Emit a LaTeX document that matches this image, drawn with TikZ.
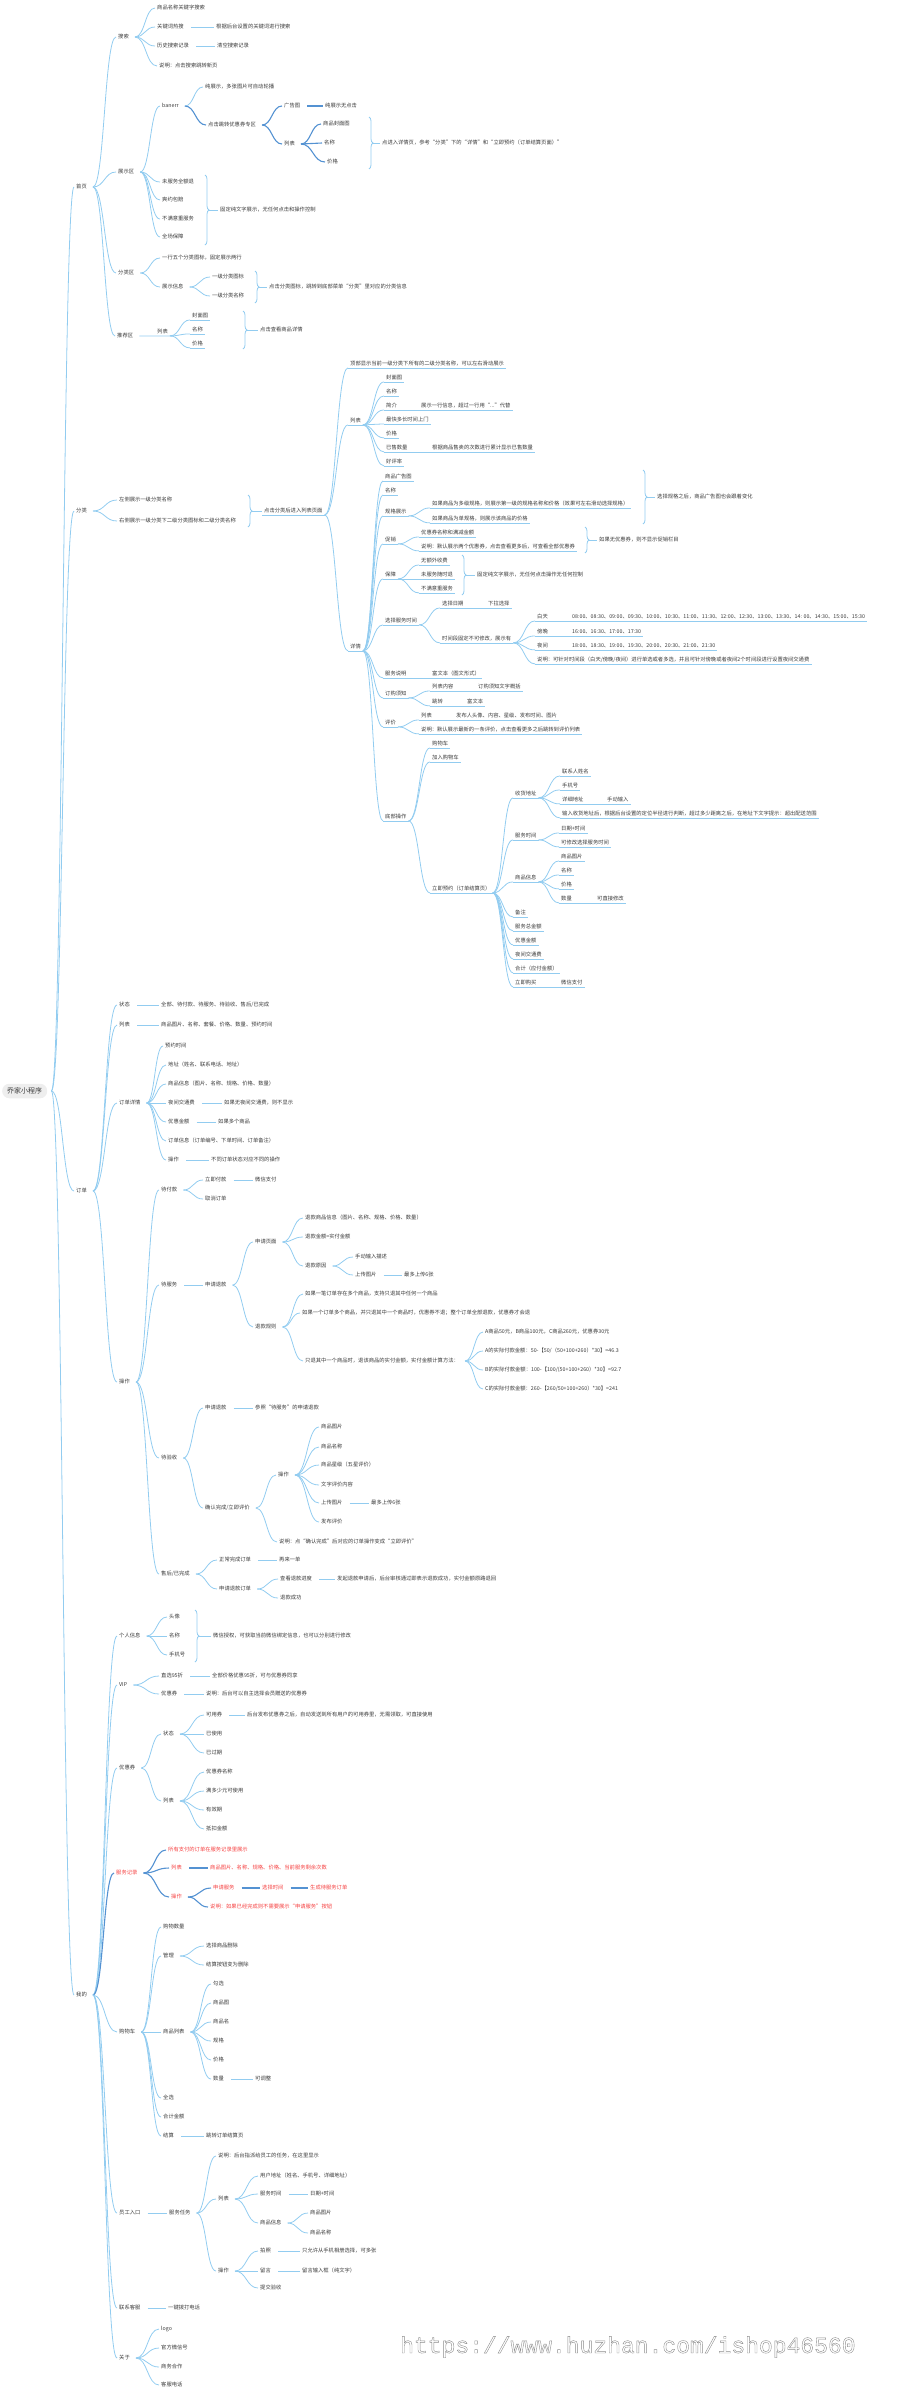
\documentclass[tikz,border=0pt]{standalone}
\usepackage{fontspec}
\setmainfont{Noto Sans CJK SC}
\newfontfamily\wmfont{Liberation Mono}
\usetikzlibrary{calc,decorations.pathreplacing}
\definecolor{lineblue}{RGB}{146,204,240}
\definecolor{linedark}{RGB}{84,146,210}
\definecolor{txt}{RGB}{58,58,58}
\definecolor{redtx}{RGB}{245,64,64}
\definecolor{rootbg}{RGB}{238,238,238}
\tikzset{
	conn/.style={lineblue,line width=0.8pt},
	connd/.style={linedark,line width=1.1pt},
	tp/.style={anchor=west,inner xsep=2pt,inner ysep=1pt,text height=4.3pt,text depth=1.1pt,font=\fontsize{5.3}{6}\selectfont,text=txt},
	rtp/.style={tp,text=redtx},
	rootnode/.style={anchor=west,fill=rootbg,rounded corners=7pt,inner xsep=5pt,inner ysep=4pt,font=\fontsize{7}{8}\selectfont,text=txt},
}
\newcommand\fan[3][conn]{\draw[#1] let \p1=(#2), \p2=(#3) in (\p1) .. controls ({(\x1+\x2)/2},\y1) and ({(\x1+\x2)/2},\y2) .. (\p2);}
\newcommand\fanm[3][conn]{\fan[#1]{[xshift=4pt]#2.east}{#3.west}}
\newcommand\fanu[3][conn]{\fan[#1]{#2.south east}{#3.south west}\draw[#1] (#3.south west) -- (#3.south east);}
\newcommand\seg[3][conn]{\draw[#1] ([xshift=5pt]#2.east) -- (#3.west);}
\newcommand\uln[3][conn]{\draw[#1] (#2.south west) -- (#3.south east);}
\newcommand\summ[4]{\draw[conn,decorate,decoration={brace,amplitude=4pt}] (#1,#2) -- (#1,#3); \draw[conn] ({#1+4},{(#2+#3)/2}) -- (#4.west);}

\begin{document}
\begin{tikzpicture}[x=1pt,y=-1pt]
		%%%%% START %%%%%
		\useasboundingbox (0,0) rectangle (900,2393);
		\node[rootnode] (r) at (2,1091) {乔家小程序};
		
		% 首页
		\node[tp] (h) at (74,187) {首页};
		\node[tp] (hs) at (116,37) {搜索};
		\node[tp] (hs1) at (155,8) {商品名称关键字搜索};
		\node[tp] (hs2) at (155,27) {关键词热搜};
		\node[tp] (hs2t) at (214,27) {根据后台设置的关键词进行搜索};
		\node[tp] (hs3) at (155,46) {历史搜索记录};
		\node[tp] (hs3t) at (215,46) {清空搜索记录};
		\node[tp] (hs4) at (157,66) {说明：点击搜索跳转新页};
		\node[tp] (hz) at (116,172) {展示区};
		\node[tp] (hz1) at (160,106) {banerr};
		\node[tp] (hz1a) at (203,87) {纯展示，多张图片可自动轮播};
		\node[tp] (hz1b) at (206,125) {点击跳转优惠券专区};
		\node[tp] (hz1b1) at (282,106) {广告图};
		\node[tp] (hz1b1t) at (323,106) {纯展示无点击};
		\node[tp] (hz1b2) at (282,144) {列表};
		\node[tp] (hz1b2a) at (321,124) {商品封面图};
		\node[tp] (hz1b2b) at (322,143) {名称};
		\node[tp] (hz1b2c) at (325,162) {价格};
		\node[tp] (hz1s) at (380,143) {点进入详情页，参考“分类”下的“详情”和“立即预约（订单结算页面）”};
		\node[tp] (hz2) at (160,182) {未服务全额退};
		\node[tp] (hz3) at (160,200) {爽约包赔};
		\node[tp] (hz4) at (160,219) {不满意重服务};
		\node[tp] (hz5) at (160,237) {全场保障};
		\node[tp] (hzs) at (218,210) {固定纯文字展示，无任何点击和操作控制};
		\node[tp] (hf) at (116,273) {分类区};
		\node[tp] (hf1) at (160,258) {一行五个分类图标，固定展示两行};
		\node[tp] (hf2) at (160,287) {展示信息};
		\node[tp] (hf2a) at (210,277) {一级分类图标};
		\node[tp] (hf2b) at (210,296) {一级分类名称};
		\node[tp] (hfs) at (267,287) {点击分类图标，跳转到底部菜单“分类”里对应的分类信息};
		\node[tp] (ht) at (115,336) {推荐区};
		\node[tp] (ht1) at (155,332) {列表};
		\node[tp] (ht1a) at (190,316) {封面图};
		\node[tp] (ht1b) at (190,330) {名称};
		\node[tp] (ht1c) at (190,344) {价格};
		\node[tp] (hts) at (258,330) {点击查看商品详情};
		
		\fanm{h}{hs} \fanm{h}{hz} \fanm{h}{hf} \fanm{h}{ht}
		\fanm{hs}{hs1} \fanm{hs}{hs2} \fanm{hs}{hs3} \fanm{hs}{hs4}
		\seg{hs2}{hs2t} \seg{hs3}{hs3t}
		\fanm{hz}{hz1} \fanm{hz}{hz2} \fanm{hz}{hz3} \fanm{hz}{hz4} \fanm{hz}{hz5}
		\fanm{hz1}{hz1a} \fanm[connd]{hz1}{hz1b}
		\fanm[connd]{hz1b}{hz1b1} \fanm[connd]{hz1b}{hz1b2} \seg[connd]{hz1b1}{hz1b1t}
		\fanm[connd]{hz1b2}{hz1b2a} \fanm[connd]{hz1b2}{hz1b2b} \fanm[connd]{hz1b2}{hz1b2c}
		\summ{369}{117}{169}{hz1s}
		\summ{205}{175}{245}{hzs}
		\fanm{hf}{hf1} \fanm{hf}{hf2} \fanm{hf2}{hf2a} \fanm{hf2}{hf2b}
		\summ{255}{271}{303}{hfs}
		\draw[conn] ([xshift=4pt]ht.east) -- (ht1.south west) -- (ht1.south east);
		\fanu{ht1}{ht1a} \fanu{ht1}{ht1b} \fanu{ht1}{ht1c}
		\summ{243}{311}{349}{hts}
		
		% 分类
		\node[tp] (c) at (74,511) {分类};
		\node[tp] (c1) at (117,500) {左侧展示一级分类名称};
		\node[tp] (c2) at (117,521) {右侧展示一级分类下二级分类图标和二级分类名称};
		\node[tp] (cs) at (262,511) {点击分类后进入列表页面};
		\node[tp] (ca) at (348,364) {顶部显示当前一级分类下所有的二级分类名称，可以左右滑动展示};
		\node[tp] (cb) at (348,421) {列表};
		\node[tp] (cb1) at (384,378) {封面图};
		\node[tp] (cb2) at (384,392) {名称};
		\node[tp] (cb3) at (384,406) {简介};
		\node[tp] (cb3t) at (419,406) {展示一行信息，超过一行用“...”代替};
		\node[tp] (cb4) at (384,420) {最快多长时间上门};
		\node[tp] (cb5) at (384,434) {价格};
		\node[tp] (cb6) at (384,448) {已售数量};
		\node[tp] (cb6t) at (430,448) {根据商品售卖的次数进行累计显示已售数量};
		\node[tp] (cb7) at (384,462) {好评率};
		\node[tp] (cc) at (348,647) {详情};
		\node[tp] (cc1) at (383,477) {商品广告图};
		\node[tp] (cc2) at (383,491) {名称};
		\node[tp] (cc3) at (383,512) {规格展示};
		\node[tp] (cc3a) at (430,504) {如果商品为多级规格，则展示第一级的规格名称和价格（效果可左右滑动选择规格）};
		\node[tp] (cc3b) at (430,519) {如果商品为单规格，则展示该商品的价格};
		\node[tp] (ccs1) at (655,497) {选择规格之后，商品广告图也会跟着变化};
		\node[tp] (cc4) at (383,540) {促销};
		\node[tp] (cc4a) at (419,533) {优惠券名称和满减金额};
		\node[tp] (cc4b) at (419,547) {说明：默认展示两个优惠券，点击查看更多后，可查看全部优惠券};
		\node[tp] (ccs2) at (597,540) {如果无优惠券，则不显示促销栏目};
		\node[tp] (cc5) at (383,575) {保障};
		\node[tp] (cc5a) at (419,561) {无额外收费};
		\node[tp] (cc5b) at (419,575) {未服务随时退};
		\node[tp] (cc5c) at (419,589) {不满意重服务};
		\node[tp] (ccs3) at (475,575) {固定纯文字展示，无任何点击操作无任何控制};
		\node[tp] (cc6) at (383,621) {选择服务时间};
		\node[tp] (cc6a) at (440,604) {选择日期};
		\node[tp] (cc6at) at (486,604) {下拉选择};
		\node[tp] (cc6b) at (440,639) {时间段固定不可修改，展示有};
		\node[tp] (cc6b1) at (535,617) {白天};
		\node[tp] (cc6b1t) at (570,617) {08:00、08:30、09:00、09:30、10:00、10:30、11:00、11:30、12:00、12:30、13:00、13:30、14: 00、14:30、15:00、15:30};
		\node[tp] (cc6b2) at (535,632) {傍晚};
		\node[tp] (cc6b2t) at (570,632) {16:00、16:30、17:00、17:30};
		\node[tp] (cc6b3) at (535,646) {夜间};
		\node[tp] (cc6b3t) at (570,646) {18:00、18:30、19:00、19:30、20:00、20:30、21:00、21:30};
		\node[tp] (cc6b4) at (535,660) {说明：可针对时间段（白天/傍晚/夜间）进行单选或者多选，并且可针对傍晚或者夜间2个时间段进行设置夜间交通费};
		\node[tp] (cc7) at (383,674) {服务说明};
		\node[tp] (cc7t) at (430,674) {富文本（图文形式）};
		\node[tp] (cc8) at (383,694) {订购须知};
		\node[tp] (cc8a) at (430,687) {列表内容};
		\node[tp] (cc8at) at (476,687) {订购须知文字概括};
		\node[tp] (cc8b) at (430,702) {跳转};
		\node[tp] (cc8bt) at (465,702) {富文本};
		\node[tp] (cc9) at (383,723) {评价};
		\node[tp] (cc9a) at (419,716) {列表};
		\node[tp] (cc9at) at (454,716) {发布人头像、内容、星级、发布时间、图片};
		\node[tp] (cc9b) at (419,730) {说明：默认展示最新的一条评价，点击查看更多之后跳转到评价列表};
		\node[tp] (cc10) at (383,817) {底部操作};
		\node[tp] (cc10a) at (430,744) {购物车};
		\node[tp] (cc10b) at (430,758) {加入购物车};
		\node[tp] (cc10c) at (430,889) {立即预约（订单结算页）};
		\node[tp] (d1) at (513,794) {收货地址};
		\node[tp] (d1a) at (560,772) {联系人姓名};
		\node[tp] (d1b) at (560,786) {手机号};
		\node[tp] (d1c) at (560,800) {详细地址};
		\node[tp] (d1ct) at (605,800) {手动输入};
		\node[tp] (d1d) at (560,814) {输入收货地址后，根据后台设置的定位半径进行判断，超过多少距离之后，在地址下文字提示：超出配送范围};
		\node[tp] (d2) at (513,836) {服务时间};
		\node[tp] (d2a) at (559,829) {日期+时间};
		\node[tp] (d2b) at (559,843) {可修改选择服务时间};
		\node[tp] (d3) at (513,878) {商品信息};
		\node[tp] (d3a) at (559,857) {商品图片};
		\node[tp] (d3b) at (559,871) {名称};
		\node[tp] (d3c) at (559,885) {价格};
		\node[tp] (d3d) at (559,899) {数量};
		\node[tp] (d3dt) at (595,899) {可直接修改};
		\node[tp] (d4) at (513,913) {备注};
		\node[tp] (d5) at (513,927) {服务总金额};
		\node[tp] (d6) at (513,941) {优惠金额};
		\node[tp] (d7) at (513,955) {夜间交通费};
		\node[tp] (d8) at (513,969) {合计（应付金额）};
		\node[tp] (d9) at (513,983) {立即购买};
		\node[tp] (d9t) at (559,983) {微信支付};
		
		\fanm{c}{c1} \fanm{c}{c2}
		\summ{248}{495}{527}{cs}
		\uln{cs}{cs}
		\fanu{cs}{ca} \fanu{cs}{cb} \fanu{cs}{cc}
		\fanu{cb}{cb1} \fanu{cb}{cb2} \fanu{cb}{cb3} \fanu{cb}{cb4} \fanu{cb}{cb5} \fanu{cb}{cb6} \fanu{cb}{cb7}
		\uln{cb3}{cb3t} \uln{cb6}{cb6t}
		\fanu{cc}{cc1} \fanu{cc}{cc2} \fanu{cc}{cc3} \fanu{cc}{cc4} \fanu{cc}{cc5}
		\fanu{cc}{cc6} \fanu{cc}{cc7} \fanu{cc}{cc8} \fanu{cc}{cc9} \fanu{cc}{cc10}
		\fanu{cc3}{cc3a} \fanu{cc3}{cc3b}
		\summ{643}{470}{524}{ccs1}
		\fanu{cc4}{cc4a} \fanu{cc4}{cc4b}
		\summ{585}{527}{553}{ccs2}
		\fanu{cc5}{cc5a} \fanu{cc5}{cc5b} \fanu{cc5}{cc5c}
		\summ{462}{555}{595}{ccs3}
		\fanu{cc6}{cc6a} \uln{cc6a}{cc6at} \fanu{cc6}{cc6b}
		\fanu{cc6b}{cc6b1} \uln{cc6b1}{cc6b1t}
		\fanu{cc6b}{cc6b2} \uln{cc6b2}{cc6b2t}
		\fanu{cc6b}{cc6b3} \uln{cc6b3}{cc6b3t}
		\fanu{cc6b}{cc6b4}
		\uln{cc7}{cc7t}
		\fanu{cc8}{cc8a} \uln{cc8a}{cc8at} \fanu{cc8}{cc8b} \uln{cc8b}{cc8bt}
		\fanu{cc9}{cc9a} \uln{cc9a}{cc9at} \fanu{cc9}{cc9b}
		\fanu{cc10}{cc10a} \fanu{cc10}{cc10b} \fanu{cc10}{cc10c}
		\fanu{cc10c}{d1} \fanu{cc10c}{d2} \fanu{cc10c}{d3} \fanu{cc10c}{d4} \fanu{cc10c}{d5}
		\fanu{cc10c}{d6} \fanu{cc10c}{d7} \fanu{cc10c}{d8} \fanu{cc10c}{d9}
		\fanu{d1}{d1a} \fanu{d1}{d1b} \fanu{d1}{d1c} \uln{d1c}{d1ct} \fanu{d1}{d1d}
		\fanu{d2}{d2a} \fanu{d2}{d2b}
		\fanu{d3}{d3a} \fanu{d3}{d3b} \fanu{d3}{d3c} \fanu{d3}{d3d} \uln{d3d}{d3dt}
		\uln{d9}{d9t}
		
		% 订单
		\node[tp] (o) at (74,1191) {订单};
		\node[tp] (o1) at (117,1005) {状态};
		\node[tp] (o1t) at (159,1005) {全部、待付款、待服务、待验收、售后/已完成};
		\node[tp] (o2) at (117,1025) {列表};
		\node[tp] (o2t) at (159,1025) {商品图片、名称、套餐、价格、数量、预约时间};
		\node[tp] (o3) at (117,1103) {订单详情};
		\node[tp] (o3a) at (163,1046) {预约时间};
		\node[tp] (o3b) at (166,1065) {地址（姓名、联系电话、地址）};
		\node[tp] (o3c) at (166,1084) {商品信息（图片、名称、规格、价格、数量）};
		\node[tp] (o3d) at (166,1103) {夜间交通费};
		\node[tp] (o3dt) at (222,1103) {如果无夜间交通费，则不显示};
		\node[tp] (o3e) at (166,1122) {优惠金额};
		\node[tp] (o3et) at (216,1122) {如果多个商品};
		\node[tp] (o3f) at (166,1141) {订单信息（订单编号、下单时间、订单备注）};
		\node[tp] (o3g) at (166,1160) {操作};
		\node[tp] (o3gt) at (209,1160) {不同订单状态对应不同的操作};
		\node[tp] (o4) at (117,1382) {操作};
		\node[tp] (o4a) at (159,1190) {待付款};
		\node[tp] (o4a1) at (203,1180) {立即付款};
		\node[tp] (o4a1t) at (253,1180) {微信支付};
		\node[tp] (o4a2) at (203,1199) {取消订单};
		\node[tp] (o4b) at (159,1285) {待服务};
		\node[tp] (o4b1) at (203,1285) {申请退款};
		\node[tp] (p1) at (253,1242) {申请页面};
		\node[tp] (p1a) at (303,1218) {退款商品信息（图片、名称、规格、价格、数量）};
		\node[tp] (p1b) at (303,1237) {退款金额=实付金额};
		\node[tp] (p1c) at (303,1266) {退款原因};
		\node[tp] (p1c1) at (353,1257) {手动输入描述};
		\node[tp] (p1c2) at (353,1275) {上传图片};
		\node[tp] (p1c2t) at (402,1275) {最多上传6张};
		\node[tp] (p2) at (253,1327) {退款规则};
		\node[tp] (p2a) at (303,1294) {如果一笔订单存在多个商品，支持只退其中任何一个商品};
		\node[tp] (p2b) at (300,1313) {如果一个订单多个商品，并只退其中一个商品时，优惠券不退；整个订单全部退款，优惠券才会退};
		\node[tp] (p2c) at (303,1361) {只退其中一个商品时，退该商品的实付金额，实付金额计算方法：};
		\node[tp] (p2c1) at (483,1332) {A商品50元，B商品100元，C商品260元，优惠券30元};
		\node[tp] (p2c2) at (483,1351) {A的实际付款金额：50-【50/（50+100+260）*30】=46.3};
		\node[tp] (p2c3) at (483,1370) {B的实际付款金额：100-【100/(50+100+260）*30】=92.7};
		\node[tp] (p2c4) at (483,1389) {C的实际付款金额：260-【260/50+100+260）*30】=241};
		\node[tp] (o4c) at (159,1458) {待验收};
		\node[tp] (o4c1) at (203,1408) {申请退款};
		\node[tp] (o4c1t) at (253,1408) {参照“待服务”的申请退款};
		\node[tp] (o4c2) at (203,1508) {确认完成/立即评价};
		\node[tp] (q1) at (276,1475) {操作};
		\node[tp] (q1a) at (319,1427) {商品图片};
		\node[tp] (q1b) at (319,1447) {商品名称};
		\node[tp] (q1c) at (319,1465) {商品星级（五星评价）};
		\node[tp] (q1d) at (319,1485) {文字评价内容};
		\node[tp] (q1e) at (319,1503) {上传图片};
		\node[tp] (q1et) at (369,1503) {最多上传6张};
		\node[tp] (q1f) at (319,1522) {发布评价};
		\node[tp] (q2) at (277,1542) {说明：点“确认完成”后对应的订单操作变成“立即评价”};
		\node[tp] (o4d) at (159,1574) {售后/已完成};
		\node[tp] (o4d1) at (217,1560) {正常完成订单};
		\node[tp] (o4d1t) at (277,1560) {再来一单};
		\node[tp] (o4d2) at (217,1589) {申请退款订单};
		\node[tp] (o4d2a) at (278,1579) {查看退款进度};
		\node[tp] (o4d2at) at (335,1579) {发起退款申请后，后台审核通过即表示退款成功，实付金额原路退回};
		\node[tp] (o4d2b) at (278,1598) {退款成功};
		
		\fanm{o}{o1} \fanm{o}{o2} \fanm{o}{o3} \fanm{o}{o4}
		\seg{o1}{o1t} \seg{o2}{o2t}
		\fanm{o3}{o3a} \fanm{o3}{o3b} \fanm{o3}{o3c} \fanm{o3}{o3d} \fanm{o3}{o3e} \fanm{o3}{o3f} \fanm{o3}{o3g}
		\seg{o3d}{o3dt} \seg{o3e}{o3et} \seg{o3g}{o3gt}
		\fanm{o4}{o4a} \fanm{o4}{o4b} \fanm{o4}{o4c} \fanm{o4}{o4d}
		\fanm{o4a}{o4a1} \fanm{o4a}{o4a2} \seg{o4a1}{o4a1t}
		\seg{o4b}{o4b1} \fanm{o4b1}{p1} \fanm{o4b1}{p2}
		\fanm{p1}{p1a} \fanm{p1}{p1b} \fanm{p1}{p1c} \fanm{p1c}{p1c1} \fanm{p1c}{p1c2} \seg{p1c2}{p1c2t}
		\fanm{p2}{p2a} \fanm{p2}{p2b} \fanm{p2}{p2c}
		\fanm{p2c}{p2c1} \fanm{p2c}{p2c2} \fanm{p2c}{p2c3} \fanm{p2c}{p2c4}
		\fanm{o4c}{o4c1} \seg{o4c1}{o4c1t} \fanm{o4c}{o4c2}
		\fanm{o4c2}{q1} \fanm{o4c2}{q2}
		\fanm{q1}{q1a} \fanm{q1}{q1b} \fanm{q1}{q1c} \fanm{q1}{q1d} \fanm{q1}{q1e} \fanm{q1}{q1f} \seg{q1e}{q1et}
		\fanm{o4d}{o4d1} \seg{o4d1}{o4d1t} \fanm{o4d}{o4d2}
		\fanm{o4d2}{o4d2a} \seg{o4d2a}{o4d2at} \fanm{o4d2}{o4d2b}
		
		% 我的
		\node[tp] (m) at (74,1995) {我的};
		\node[tp] (m1) at (117,1636) {个人信息};
		\node[tp] (m1a) at (167,1617) {头像};
		\node[tp] (m1b) at (167,1636) {名称};
		\node[tp] (m1c) at (167,1655) {手机号};
		\node[tp] (m1s) at (211,1636) {微信授权，可获取当前微信绑定信息，也可以分别进行修改};
		\node[tp] (m2) at (117,1685) {VIP};
		\node[tp] (m2a) at (159,1676) {直选95折};
		\node[tp] (m2at) at (210,1676) {全部价格优惠95折，可与优惠券同享};
		\node[tp] (m2b) at (159,1694) {优惠券};
		\node[tp] (m2bt) at (204,1694) {说明：后台可以自主选择会员赠送的优惠券};
		\node[tp] (m3) at (117,1768) {优惠券};
		\node[tp] (m3a) at (161,1734) {状态};
		\node[tp] (m3a1) at (204,1715) {可用券};
		\node[tp] (m3a1t) at (245,1715) {后台发布优惠券之后，自动发送到所有用户的可用券里，无需领取，可直接使用};
		\node[tp] (m3a2) at (204,1734) {已使用};
		\node[tp] (m3a3) at (204,1753) {已过期};
		\node[tp] (m3b) at (161,1801) {列表};
		\node[tp] (m3b1) at (204,1772) {优惠券名称};
		\node[tp] (m3b2) at (204,1791) {满多少元可使用};
		\node[tp] (m3b3) at (204,1810) {有效期};
		\node[tp] (m3b4) at (204,1829) {抵扣金额};
		\node[rtp] (m4) at (114,1873) {服务记录};
		\node[rtp] (m4a) at (166,1850) {所有支付的订单在服务记录里展示};
		\node[rtp] (m4b) at (169,1868) {列表};
		\node[rtp] (m4bt) at (208,1868) {商品图片、名称、规格、价格、当前服务剩余次数};
		\node[rtp] (m4c) at (169,1897) {操作};
		\node[rtp] (m4c1) at (211,1888) {申请服务};
		\node[rtp] (m4c1t) at (260,1888) {选择时间};
		\node[rtp] (m4c1u) at (308,1888) {生成待服务订单};
		\node[rtp] (m4c2) at (208,1907) {说明：如果已经完成则不需要展示“申请服务”按钮};
		\node[tp] (m5) at (117,2032) {购物车};
		\node[tp] (m5a) at (161,1927) {购物数量};
		\node[tp] (m5b) at (161,1956) {管理};
		\node[tp] (m5b1) at (204,1946) {选择商品删除};
		\node[tp] (m5b2) at (204,1965) {结算按钮变为删除};
		\node[tp] (m5c) at (161,2032) {商品列表};
		\node[tp] (m5c1) at (211,1984) {勾选};
		\node[tp] (m5c2) at (211,2003) {商品图};
		\node[tp] (m5c3) at (211,2022) {商品名};
		\node[tp] (m5c4) at (211,2041) {规格};
		\node[tp] (m5c5) at (211,2060) {价格};
		\node[tp] (m5c6) at (211,2079) {数量};
		\node[tp] (m5c6t) at (253,2079) {可调整};
		\node[tp] (m5d) at (161,2098) {全选};
		\node[tp] (m5e) at (161,2117) {合计金额};
		\node[tp] (m5f) at (161,2136) {结算};
		\node[tp] (m5ft) at (204,2136) {跳转订单结算页};
		\node[tp] (m6) at (117,2213) {员工入口};
		\node[tp] (m6a) at (167,2213) {服务任务};
		\node[tp] (m6a1) at (216,2156) {说明：后台指派给员工的任务，在这里显示};
		\node[tp] (m6a2) at (216,2199) {列表};
		\node[tp] (n1) at (258,2176) {用户地址（姓名、手机号、详细地址）};
		\node[tp] (n2) at (258,2194) {服务时间};
		\node[tp] (n2t) at (308,2194) {日期+时间};
		\node[tp] (n3) at (258,2223) {商品信息};
		\node[tp] (n3a) at (308,2213) {商品图片};
		\node[tp] (n3b) at (308,2233) {商品名称};
		\node[tp] (m6a3) at (216,2271) {操作};
		\node[tp] (n4) at (258,2251) {拍照};
		\node[tp] (n4t) at (300,2251) {只允许从手机相册选择，可多张};
		\node[tp] (n5) at (258,2271) {留言};
		\node[tp] (n5t) at (300,2271) {留言输入框（纯文字）};
		\node[tp] (n6) at (258,2288) {提交验收};
		\node[tp] (m7) at (117,2308) {联系客服};
		\node[tp] (m7t) at (166,2308) {一键拨打电话};
		\node[tp] (m8) at (117,2358) {关于};
		\node[tp] (m8a) at (159,2329) {logo};
		\node[tp] (m8b) at (159,2348) {官方微信号};
		\node[tp] (m8c) at (159,2367) {商务合作};
		\node[tp] (m8d) at (159,2385) {客服电话};
		
		\fanm{m}{m1} \fanm{m}{m2} \fanm{m}{m3} \fanm[connd]{m}{m4} \fanm{m}{m5} \fanm{m}{m6} \fanm{m}{m7} \fanm{m}{m8}
		\fanm{m1}{m1a} \fanm{m1}{m1b} \fanm{m1}{m1c}
		\summ{195}{1610}{1662}{m1s}
		\fanm{m2}{m2a} \seg{m2a}{m2at} \fanm{m2}{m2b} \seg{m2b}{m2bt}
		\fanm{m3}{m3a} \fanm{m3}{m3b}
		\fanm{m3a}{m3a1} \seg{m3a1}{m3a1t} \fanm{m3a}{m3a2} \fanm{m3a}{m3a3}
		\fanm{m3b}{m3b1} \fanm{m3b}{m3b2} \fanm{m3b}{m3b3} \fanm{m3b}{m3b4}
		\fanm[connd]{m4}{m4a} \fanm[connd]{m4}{m4b} \fanm[connd]{m4}{m4c}
		\seg[connd]{m4b}{m4bt}
		\fanm[connd]{m4c}{m4c1} \fanm[connd]{m4c}{m4c2}
		\seg[connd]{m4c1}{m4c1t} \seg[connd]{m4c1t}{m4c1u}
		\fanm{m5}{m5a} \fanm{m5}{m5b} \fanm{m5}{m5c} \fanm{m5}{m5d} \fanm{m5}{m5e} \fanm{m5}{m5f}
		\fanm{m5b}{m5b1} \fanm{m5b}{m5b2}
		\fanm{m5c}{m5c1} \fanm{m5c}{m5c2} \fanm{m5c}{m5c3} \fanm{m5c}{m5c4} \fanm{m5c}{m5c5} \fanm{m5c}{m5c6}
		\seg{m5c6}{m5c6t} \seg{m5f}{m5ft}
		\seg{m6}{m6a}
		\fanm{m6a}{m6a1} \fanm{m6a}{m6a2} \fanm{m6a}{m6a3}
		\fanm{m6a2}{n1} \fanm{m6a2}{n2} \fanm{m6a2}{n3} \seg{n2}{n2t}
		\fanm{n3}{n3a} \fanm{n3}{n3b}
		\fanm{m6a3}{n4} \fanm{m6a3}{n5} \fanm{m6a3}{n6} \seg{n4}{n4t} \seg{n5}{n5t}
		\seg{m7}{m7t}
		\fanm{m8}{m8a} \fanm{m8}{m8b} \fanm{m8}{m8c} \fanm{m8}{m8d}
		
		% root
		\fanm{r}{h} \fanm{r}{c} \fanm{r}{o} \fanm{r}{m}
		
		\node[anchor=west,inner sep=0pt,text=black!45,font=\wmfont\fontsize{23}{23}\selectfont] (wm) at (400,2347) {\special{pdf:literal direct 1 Tr 0.4 w}https://www.huzhan.com/ishop46560\special{pdf:literal direct 0 Tr}};
		%%%%% END %%%%%
\end{tikzpicture}
\end{document}
